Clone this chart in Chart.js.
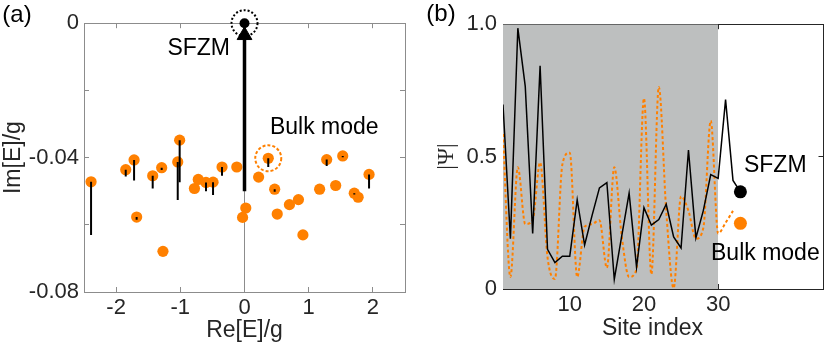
<!DOCTYPE html>
<html>
<head>
<meta charset="utf-8">
<script src="https://cdn.jsdelivr.net/npm/chart.js@4.4.1/dist/chart.umd.min.js"></script>
<style>
  body { margin: 0; background: #fff; }
  #wrap { position: relative; width: 830px; height: 344px; }
  canvas { position: absolute; top: 0; }
  #panelA { left: 0; }
  #panelB { left: 420px; }
</style>
</head>
<body>
<div id="wrap">
  <canvas id="panelA" width="420" height="344"></canvas>
  <canvas id="panelB" width="410" height="344"></canvas>
</div>
<script>
// ---- (a) complex spectrum ----
var reE = [-2.39, -1.85, -1.72, -1.68, -1.43, -1.29, -1.27, -1.04, -1.01, -0.78, -0.72, -0.60, -0.49, -0.35, -0.12, -0.03,
           0.02, 0.22, 0.37, 0.47, 0.51, 0.70, 0.84, 0.91, 1.17, 1.28, 1.42, 1.53, 1.71, 1.77, 1.94];
var imE = [-0.0472, -0.0436, -0.0407, -0.0577, -0.0454, -0.0430, -0.0679, -0.0413, -0.0348, -0.0492, -0.0465, -0.0474, -0.0473, -0.0428, -0.0428, -0.0578,
           -0.0550, -0.0458, -0.0402, -0.0494, -0.0568, -0.0540, -0.0525, -0.0630, -0.0494, -0.0406, -0.0483, -0.0395, -0.0506, -0.0518, -0.0450];
// lower end of the black stroke hanging from each eigenvalue (equal to imE where there is none)
var imEnd = [-0.0630, -0.0456, -0.0468, -0.0585, -0.0492, -0.0437, -0.0679, -0.0526, -0.0473, -0.0492, -0.0465, -0.0500, -0.0511, -0.0454, -0.0428, -0.0578,
             -0.0550, -0.0458, -0.0428, -0.0502, -0.0568, -0.0540, -0.0525, -0.0630, -0.0494, -0.0425, -0.0483, -0.0399, -0.0510, -0.0518, -0.0492];
var sfzmRe = 0, sfzmIm = 0;
var bulkRe = 0.37, bulkIm = -0.0402;
var arrowIm = [-0.050, -0.0046];
var arrowTipIm = -0.0036;
var reTicks = [-2, -1, 0, 1, 2];
var reTickLabels = ['-2', '-1', '0', '1', '2'];
var imTicks = [-0.08, -0.06, -0.04, -0.02, 0];
var imTickLabels = ['-0.08', '', '-0.04', '', '0'];

// ---- (b) mode profiles ----
var sites = [];
for (var n = 1; n <= 33; n++) sites.push(n);
var psiSfzm = [0.697, 0.19, 0.985, 0.765, 0.21, 0.843, 0.15, 0.10, 0.124, 0.124, 0.337, 0.166, 0.277, 0.382, 0.402, 0.036,
               0.20, 0.362, 0.083, 0.307, 0.241, 0.262, 0.32, 0.197, 0.155, 0.525, 0.193, 0.296, 0.432, 0.418, 0.715, 0.41, 0.367];
var psiBulk = [0.585, 0.045, 0.46, 0.245, 0.26, 0.478, 0.12, 0.038, 0.47, 0.515, 0.045, 0.235, 0.245, 0.26, 0.08, 0.46,
               0.20, 0.045, 0.075, 0.72, 0.055, 0.763, 0.295, 0.003, 0.35, 0.295, 0.19, 0.23, 0.635, 0.21, 0.25, 0.295];
var bulkMarker = [33, 0.248];
var shadeSites = [1, 30];
var siteTicks = [5, 10, 15, 20, 25, 30];
var siteTickLabels = ['', '10', '', '20', '', '30'];
var psiTicks = [0, 0.5, 1];
var psiTickLabels = ['0', '0.5', '1.0'];

var ORANGE = '#ff8000';
var TXT = '#262626';
Chart.defaults.font.family = '"Liberation Sans", Arial, sans-serif';
Chart.defaults.color = TXT;

function fixed(list) {
  return function (scale) { scale.ticks = list.map(function (v) { return { value: v }; }); };
}

// dashed outline for the circle markers
var dashPoints = {
  id: 'dashPoints',
  beforeDatasetDraw: function (chart, args) {
    var d = chart.data.datasets[args.index].pointDash;
    if (d) { chart.ctx.save(); chart.ctx.setLineDash(d); }
  },
  afterDatasetDraw: function (chart, args) {
    if (chart.data.datasets[args.index].pointDash) chart.ctx.restore();
  }
};

function notes(items) {
  return {
    id: 'notes',
    afterDatasetsDraw: function (chart) {
      var ctx = chart.ctx;
      ctx.save();
      ctx.textAlign = 'center';
      ctx.textBaseline = 'middle';
      items.forEach(function (t) {
        var x = t.px != null ? t.px : chart.scales.x.getPixelForValue(t.x);
        var y = t.py != null ? t.py : chart.scales.y.getPixelForValue(t.y);
        ctx.fillStyle = t.color || '#000';
        ctx.font = t.size + 'px "Liberation Sans", Arial, sans-serif';
        ctx.fillText(t.text, x, y);
      });
      ctx.restore();
    }
  };
}

function boxAxis(pos, min, max, ticks, color) {
  var s = {
    type: 'linear', position: pos, min: min, max: max,
    afterBuildTicks: fixed(ticks),
    ticks: { display: false },
    grid: { drawOnChartArea: false, tickLength: -5, color: color, tickColor: color },
    border: { color: color }
  };
  if (pos === 'top') s.afterFit = function (sc) { sc.height = 0; };
  else s.afterFit = function (sc) { sc.width = 0; };
  return s;
}

// ---------- panel (a) ----------
var FRAME_A = '#8c8c8c';
var setsA = [];
reE.forEach(function (x, i) {
  if (imEnd[i] === imE[i]) return;
  setsA.push({
    type: 'line', data: [{ x: x, y: imE[i] }, { x: x, y: imEnd[i] }],
    borderColor: '#000', borderWidth: 2, pointRadius: 0, order: 1
  });
});
setsA.push({
  type: 'scatter', data: reE.map(function (x, i) { return { x: x, y: imE[i] }; }),
  backgroundColor: ORANGE, borderWidth: 0, pointRadius: 5.6, order: 2
});
setsA.push({
  type: 'line', data: [{ x: sfzmRe, y: arrowIm[0] }, { x: sfzmRe, y: arrowIm[1] }],
  borderColor: '#000', borderWidth: 3.5, pointRadius: 0, order: 0
});
setsA.push({
  type: 'scatter', data: [{ x: sfzmRe, y: arrowTipIm }], pointStyle: 'triangle',
  backgroundColor: '#000', borderColor: '#000', borderWidth: 1, pointRadius: 8.5, order: 0, clip: false
});
setsA.push({
  type: 'scatter', data: [{ x: sfzmRe, y: sfzmIm }],
  backgroundColor: '#000', borderWidth: 0, pointRadius: 5, order: 0, clip: false
});
setsA.push({
  type: 'scatter', data: [{ x: sfzmRe, y: sfzmIm }], pointDash: [2, 2],
  backgroundColor: 'rgba(0,0,0,0)', borderColor: '#000', borderWidth: 2, pointRadius: 13, order: 0, clip: false
});
setsA.push({
  type: 'scatter', data: [{ x: bulkRe, y: bulkIm }], pointDash: [3, 2],
  backgroundColor: 'rgba(0,0,0,0)', borderColor: ORANGE, borderWidth: 2, pointRadius: 13, order: 0, clip: false
});

new Chart(document.getElementById('panelA'), {
  type: 'scatter',
  data: { datasets: setsA },
  options: {
    responsive: false, animation: false, devicePixelRatio: 1,
    layout: { padding: { top: 15, right: 11, left: 0, bottom: 0 } },
    plugins: { legend: { display: false }, tooltip: { enabled: false } },
    scales: {
      x: {
        type: 'linear', min: -2.5, max: 2.5,
        afterBuildTicks: fixed(reTicks),
        afterFit: function (s) { s.height = 52; },
        ticks: { padding: 8, font: { size: 22 }, callback: function (v, i) { return reTickLabels[i]; } },
        grid: {
          color: function (c) { return c.tick && c.tick.value === 0 ? FRAME_A : 'rgba(0,0,0,0)'; },
          tickColor: FRAME_A, tickLength: -5
        },
        border: { color: FRAME_A },
        title: { display: true, text: 'Re[E]/g', font: { size: 23 }, padding: { top: 0, bottom: 0 } }
      },
      y: {
        type: 'linear', min: -0.08, max: 0,
        afterBuildTicks: fixed(imTicks),
        afterFit: function (s) { s.width = 84; },
        ticks: { padding: 10, font: { size: 22 }, callback: function (v, i) { return imTickLabels[i]; } },
        grid: { drawOnChartArea: false, tickLength: -5, color: FRAME_A, tickColor: FRAME_A },
        border: { color: FRAME_A },
        title: { display: true, text: 'Im[E]/g', font: { size: 23 }, padding: { top: 0, bottom: 0 } }
      },
      x2: boxAxis('top', -2.5, 2.5, reTicks, FRAME_A),
      y2: boxAxis('right', -0.08, 0, imTicks, FRAME_A)
    }
  },
  plugins: [dashPoints, notes([
    { text: '(a)', px: 17, py: 15, size: 24 },
    { text: 'SFZM', x: -0.713, y: -0.0077, size: 23 },
    { text: 'Bulk mode', x: 1.242, y: -0.0311, size: 23 }
  ])]
});

// ---------- panel (b) ----------
var FRAME_B = '#262626';
new Chart(document.getElementById('panelB'), {
  type: 'line',
  data: {
    datasets: [
      {
        data: shadeSites.map(function (s) { return { x: s, y: 1 }; }),
        fill: 'origin', backgroundColor: '#bdbfbf', borderWidth: 0, pointRadius: 0, order: 4
      },
      {
        data: psiBulk.map(function (v, i) { return { x: sites[i], y: v }; }),
        borderColor: ORANGE, borderWidth: 2, borderDash: [3, 2.5], pointRadius: 0,
        cubicInterpolationMode: 'monotone', fill: false, order: 3
      },
      {
        data: psiSfzm.map(function (v, i) { return { x: sites[i], y: v }; }),
        borderColor: '#000', borderWidth: 1.5, pointRadius: 0, fill: false, order: 2
      },
      {
        type: 'scatter', data: [{ x: sites[sites.length - 1], y: psiSfzm[psiSfzm.length - 1] }],
        backgroundColor: '#000', borderWidth: 0, pointRadius: 6.5, order: 1
      },
      {
        type: 'scatter', data: [{ x: bulkMarker[0], y: bulkMarker[1] }],
        backgroundColor: ORANGE, borderWidth: 0, pointRadius: 6.5, order: 1
      }
    ]
  },
  options: {
    responsive: false, animation: false, devicePixelRatio: 1,
    layout: { padding: { top: 15, right: 4, left: 0, bottom: 0 } },
    plugins: { legend: { display: false }, tooltip: { enabled: false } },
    scales: {
      x: {
        type: 'linear', min: 1, max: 44.2,
        afterBuildTicks: fixed(siteTicks),
        afterFit: function (s) { s.height = 55; },
        ticks: { padding: 8, font: { size: 22 }, callback: function (v, i) { return siteTickLabels[i]; } },
        grid: { drawOnChartArea: false, tickLength: -5, color: FRAME_B, tickColor: FRAME_B },
        border: { color: FRAME_B },
        title: { display: false }
      },
      y: {
        type: 'linear', min: 0, max: 1,
        afterBuildTicks: fixed(psiTicks),
        afterFit: function (s) { s.width = 83; },
        ticks: { padding: 11, font: { size: 22 }, callback: function (v, i) { return psiTickLabels[i]; } },
        grid: { drawOnChartArea: false, tickLength: -5, color: FRAME_B, tickColor: FRAME_B },
        border: { color: FRAME_B },
        title: { display: true, text: '|Ψ|', font: { size: 23, family: '"Liberation Serif", serif' }, padding: { top: 13, bottom: 0 } }
      },
      x2: boxAxis('top', 1, 44.2, siteTicks, FRAME_B),
      y2: boxAxis('right', 0, 1, psiTicks, FRAME_B)
    }
  },
  plugins: [notes([
    { text: '(b)', px: 21, py: 14, size: 24 },
    { text: 'Site index', px: 232.5, py: 328.5, size: 23, color: TXT },
    { text: 'SFZM', x: 37.7, y: 0.465, size: 23 },
    { text: 'Bulk mode', x: 36.36, y: 0.132, size: 23 }
  ])]
});
</script>
</body>
</html>
